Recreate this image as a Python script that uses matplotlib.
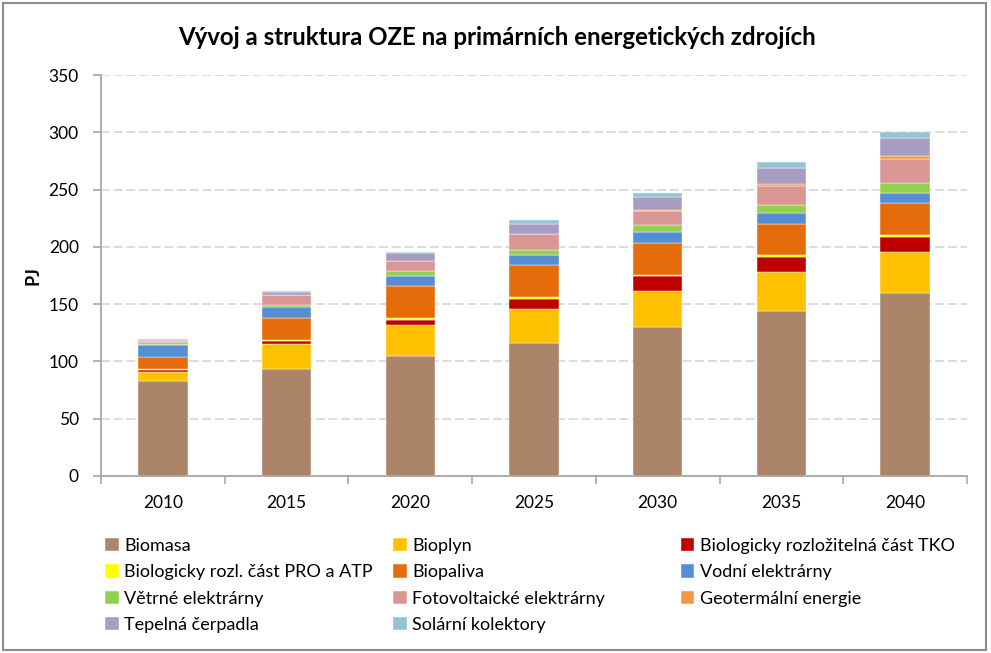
import matplotlib.pyplot as plt
import matplotlib.patches as mpatches
import numpy as np

plt.rcParams['font.family'] = ['Lato', 'DejaVu Sans']

years = ["2010", "2015", "2020", "2025", "2030", "2035", "2040"]

# PJ per source, bottom to top of the stack
biomasa = [83, 93, 105, 116.5, 130, 144.3, 160]
bioplyn = [7.5, 22, 27, 29, 31.5, 33.7, 35.8]
tko = [2, 3, 4.5, 9, 13, 13.4, 13.1]
pro_atp = [0.5, 0.6, 1.5, 1.5, 1.2, 1.5, 1.4]
biopaliva = [10.5, 19, 27.5, 28, 28, 27.3, 28]
vodni = [10.5, 9.5, 9.5, 9, 9, 9.6, 9]
vetrne = [1.5, 2, 3.5, 4.5, 6, 7, 8.4]
foto = [1.8, 8.5, 9, 13.5, 12.5, 16.6, 21.3]
geo = [0.2, 0.3, 0.3, 0.3, 1.4, 1.7, 2]
tepelna = [1.5, 3, 6.5, 9, 10.8, 13.7, 16]
solarni = [0.6, 1, 1.5, 3, 3.8, 5.2, 5.2]

series = [
    ("Biomasa", biomasa, "#AB8469"),
    ("Bioplyn", bioplyn, "#FFC000"),
    ("Biologicky rozložitelná část TKO", tko, "#C00000"),
    ("Biologicky rozl. část PRO a ATP", pro_atp, "#FFFF00"),
    ("Biopaliva", biopaliva, "#E46C0A"),
    ("Vodní elektrárny", vodni, "#558ED5"),
    ("Větrné elektrárny", vetrne, "#92D050"),
    ("Fotovoltaické elektrárny", foto, "#D99694"),
    ("Geotermální energie", geo, "#F79646"),
    ("Tepelná čerpadla", tepelna, "#A79CC1"),
    ("Solární kolektory", solarni, "#93C4D5"),
]

fig = plt.figure(figsize=(9.91, 6.53), dpi=100)
ax = fig.add_axes([0.1019, 0.2711, 0.8739, 0.614])

x = np.arange(len(years))
bottom = np.zeros(len(years))
handles = []
for name, vals, col in series:
    b = ax.bar(x, vals, 0.4, bottom=bottom, color=col, label=name,
               edgecolor="white", linewidth=0.3, zorder=3)
    handles.append(b)
    bottom += np.array(vals)

ax.set_xlim(-0.5, len(years) - 0.5)
ax.set_ylim(0, 350)
ax.set_yticks(range(0, 351, 50))
ax.set_xticks(x)
ax.set_xticklabels(years)
ax.set_xticks(np.arange(-0.5, len(years)), minor=True)
ax.tick_params(axis="x", which="major", length=0, pad=14, labelsize=12.5)
ax.tick_params(axis="x", which="minor", length=6, width=1.2, color="#A6A6A6")
ax.tick_params(axis="y", length=6, width=1.2, color="#A6A6A6", pad=10, labelsize=12.5)

ax.grid(axis="y", color="#D9D9D9", linestyle=(0, (5, 2)), linewidth=1.3, zorder=0)
for s in ["top", "right"]:
    ax.spines[s].set_visible(False)
for s in ["left", "bottom"]:
    ax.spines[s].set_color("#A6A6A6")
    ax.spines[s].set_linewidth(1.3)

ax.set_ylabel("PJ", fontsize=13, fontweight="bold", labelpad=5)
fig.text(0.502, 0.942, "Vývoj a struktura OZE na primárních energetických zdrojích",
         ha="center", va="center", fontsize=17.3, fontweight="bold")

# legend: three columns laid out row by row, like the original
col_x = [0.106, 0.397, 0.687]
for c in range(3):
    hs = handles[c::3]
    fig.legend(hs, [h.get_label() for h in hs], loc="upper left",
               bbox_to_anchor=(col_x[c], 0.176), frameon=False, fontsize=13,
               handlelength=0.75, handleheight=0.75, handletextpad=0.3,
               labelspacing=0.57, borderaxespad=0, borderpad=0)

fig.patches.append(mpatches.Rectangle((0.003, 0.004), 0.992, 0.992, transform=fig.transFigure,
                                      fill=False, edgecolor="#8C8C8C", linewidth=1.5))

fig.savefig("out.png", dpi=100)
